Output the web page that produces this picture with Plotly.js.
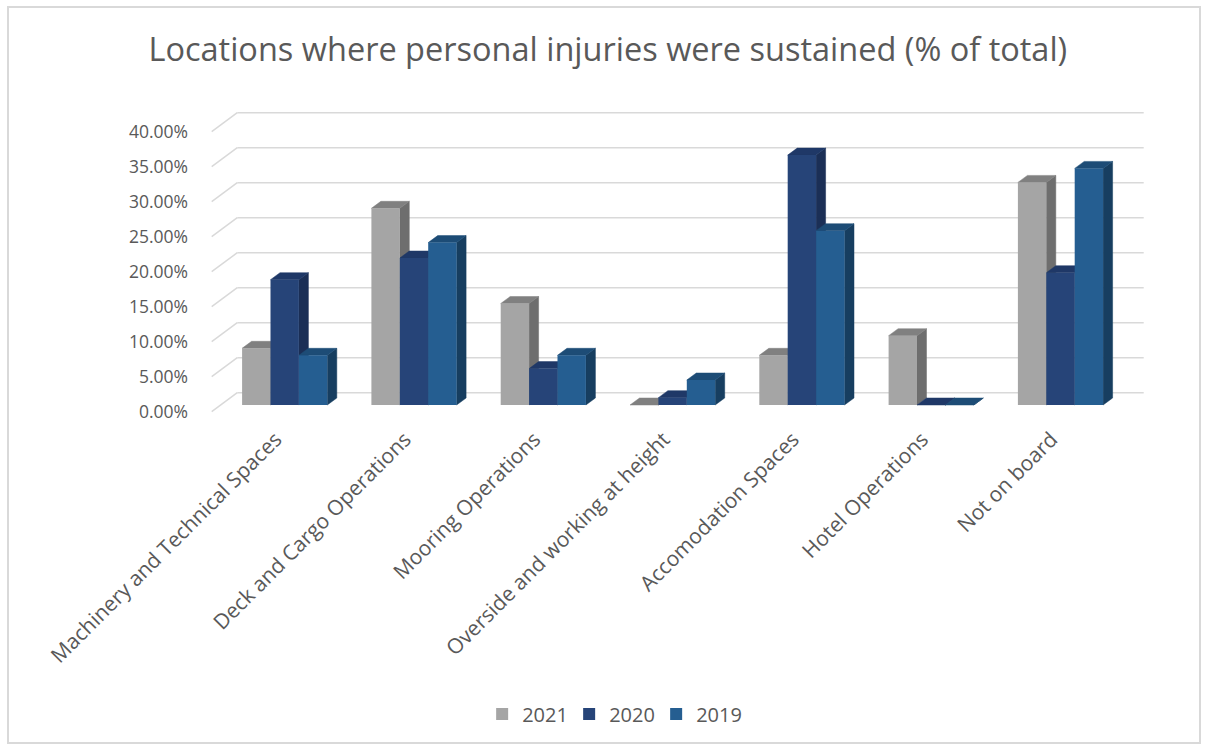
<!DOCTYPE html>
<html>
<head>
<meta charset="utf-8">
<script src="https://cdn.plot.ly/plotly-3.0.1.min.js"></script>
<style>
  html, body { margin: 0; padding: 0; background: #ffffff; }
  #chart { position: absolute; left: 0; top: 0; width: 1206px; height: 746px; }
  #frame { position: absolute; left: 7px; top: 6px; width: 1194px; height: 738px;
           border: 2px solid #d9d9d9; pointer-events: none; box-sizing: border-box; }
</style>
</head>
<body>
<div id="chart"></div>
<div id="frame"></div>
<script>
// ---------- data ----------
const categories = [
  "Machinery and Technical Spaces",
  "Deck and Cargo Operations",
  "Mooring Operations",
  "Overside and working at height",
  "Accomodation Spaces",
  "Hotel Operations",
  "Not on board"
];
const seriesNames = ["2021", "2020", "2019"];
const values2021 = [0.081, 0.281, 0.145, 0.000, 0.071, 0.099, 0.318];
const values2020 = [0.179, 0.210, 0.052, 0.0105, 0.357, 0.000, 0.189];
const values2019 = [0.071, 0.232, 0.071, 0.0357, 0.249, 0.000, 0.338];
const tickValues = [0, 0.05, 0.10, 0.15, 0.20, 0.25, 0.30, 0.35, 0.40];
const tickLabels = ["0.00%", "5.00%", "10.00%", "15.00%", "20.00%", "25.00%", "30.00%", "35.00%", "40.00%"];

// ---------- styling / geometry ----------
const frontColors = ["#a5a5a5", "#264478", "#255e91"];
const sideColors  = ["#6e6e6e", "#1b2f56", "#173e60"];
const topColors   = ["#808080", "#1f3867", "#1d4c76"];
const textColor = "#595959";

const PX_PER_CAT = 129.3;   // pixels per category unit
const PX_PER_VAL = 700;     // pixels per 1.0 value
const barW = 28.4 / PX_PER_CAT;
const depthX = 9.5 / PX_PER_CAT;
const depthY = 7 / PX_PER_VAL;
const wallBackX = -47.4 / PX_PER_CAT;   // back wall left edge
const wallFrontX = -73 / PX_PER_CAT;    // front end of side-wall gridline
const backShift = 12.3 / PX_PER_VAL;
const frontShift = -6.7 / PX_PER_VAL;
const labelShift = -9 / PX_PER_CAT;     // category labels sit at the front edge
const xRange = [-79.7 / PX_PER_CAT, 860.3 / PX_PER_CAT];
const yRange = [-15 / PX_PER_VAL, 305 / PX_PER_VAL];

const allSeries = [values2021, values2020, values2019];
const xIdx = categories.map((c, i) => i);

// depth faces (side + top) built from the data
const faceTraces = [];
allSeries.forEach((vals, k) => {
  const sx = [], sy = [], tx = [], ty = [];
  vals.forEach((v, i) => {
    const L = i - 1.5 * barW + k * barW;
    const R = L + barW;
    sx.push(R, R, R + depthX, R + depthX, R, null);
    sy.push(0, v, v + depthY, depthY, 0, null);
    tx.push(L, R, R + depthX, L + depthX, L, null);
    ty.push(v, v, v + depthY, v + depthY, v, null);
  });
  faceTraces.push({
    type: "scatter", mode: "lines", x: sx, y: sy, fill: "toself",
    fillcolor: sideColors[k], line: { color: sideColors[k], width: 0.5 },
    xaxis: "x", yaxis: "y", showlegend: false, hoverinfo: "skip"
  });
  faceTraces.push({
    type: "scatter", mode: "lines", x: tx, y: ty, fill: "toself",
    fillcolor: topColors[k], line: { color: topColors[k], width: 0.5 },
    xaxis: "x", yaxis: "y", showlegend: false, hoverinfo: "skip"
  });
});

// front faces: real bar traces on an overlaying axis (drawn above the depth faces)
const barTraces = allSeries.map((vals, k) => ({
  type: "bar", name: seriesNames[k], x: xIdx, y: vals,
  xaxis: "x", yaxis: "y2",
  marker: { color: frontColors[k], line: { width: 0 } },
  hovertemplate: "%{y:.2%}<extra>" + seriesNames[k] + "</extra>"
}));

// gridlines: back wall + side wall
const shapes = [];
tickValues.forEach(t => {
  shapes.push({ type: "line", xref: "x", yref: "y", layer: "below",
    x0: wallFrontX, y0: t + frontShift, x1: wallBackX, y1: t + backShift,
    line: { color: "#d9d9d9", width: 1.5 } });
  shapes.push({ type: "line", xref: "x", yref: "y", layer: "below",
    x0: wallBackX, y0: t + backShift, x1: xRange[1] - 0.01, y1: t + backShift,
    line: { color: "#d9d9d9", width: 1.5 } });
});

const layout = {
  width: 1206, height: 746,
  paper_bgcolor: "#ffffff", plot_bgcolor: "rgba(0,0,0,0)",
  margin: { l: 205, r: 61, t: 100, b: 326 },
  font: { family: "Open Sans, sans-serif", color: textColor },
  title: {
    text: "Locations where personal injuries were sustained (% of total)",
    font: { family: "Open Sans, sans-serif", size: 32.5, color: textColor },
    x: 0.504, xanchor: "center", xref: "container",
    y: 0.933, yanchor: "middle", yref: "container"
  },
  barmode: "group", bargap: 1 - 3 * barW, bargroupgap: 0,
  xaxis: {
    range: xRange, tickmode: "array", tickvals: xIdx.map(i => i + labelShift), ticktext: categories,
    tickangle: -45, showgrid: false, zeroline: false, showline: false, ticks: "",
    tickfont: { size: 21, color: textColor }, ticklabelstandoff: 2, fixedrange: true
  },
  yaxis: {
    range: yRange, tickmode: "array",
    tickvals: tickValues.map(t => t + frontShift), ticktext: tickLabels,
    showgrid: false, zeroline: false, showline: false, ticks: "",
    tickfont: { size: 17.5, color: textColor }, ticklabelstandoff: 16, fixedrange: true
  },
  yaxis2: {
    range: yRange, overlaying: "y", visible: false, showgrid: false,
    zeroline: false, fixedrange: true
  },
  shapes: shapes,
  showlegend: true,
  legend: {
    orientation: "h", xref: "container", yref: "container",
    x: 0.508, xanchor: "center", y: 1 - 714 / 746, yanchor: "middle",
    font: { size: 20, color: textColor }, traceorder: "normal",
    entrywidth: 42, entrywidthmode: "pixels"
  }
};

Plotly.newPlot("chart", faceTraces.concat(barTraces), layout, { displayModeBar: false, staticPlot: true });
</script>
</body>
</html>
